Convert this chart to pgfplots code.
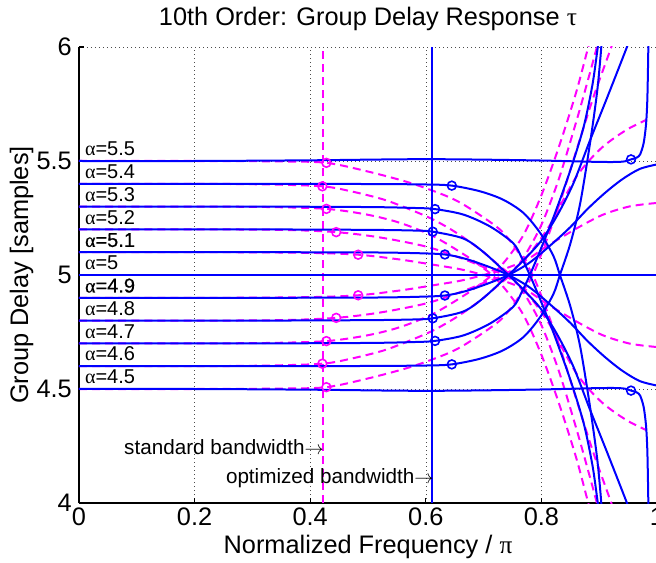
\documentclass[border=0pt]{standalone}
\usepackage{fontspec}
\setmainfont{Liberation Sans}
\newfontfamily\greek{Liberation Serif}
\newfontfamily\fb[FakeBold=0.5]{Liberation Sans}
\newfontfamily\greekfb[FakeBold=0.5]{Liberation Serif}
\usepackage{pgfplots}
\pgfplotsset{compat=1.18}
\definecolor{mblue}{rgb}{0,0,1}
\definecolor{mmag}{rgb}{1,0,1}

\begin{document}
\begin{tikzpicture}
\begin{axis}[
  scale only axis, width=433.5pt, height=342pt,
  xmin=0, xmax=1, ymin=4, ymax=6,
  xtick={0,0.2,0.4,0.6,0.8,1}, ytick={4,4.5,5,5.5,6},
  axis x line=bottom, axis y line=left,
  axis line style={-, line width=1pt, black},
  tick align=inside, major tick length=3.75pt,
  tick style={black, line width=0.8pt},
  grid=major,
  grid style={black!70, line width=0.45pt, dash pattern=on 0.5pt off 2.5pt},
  /pgf/number format/assume math mode=true,
  tick label style={font=\fontsize{19}{22}\selectfont},
  xticklabel style={anchor=north, inner sep=0pt, yshift=-3.75pt},
  yticklabel style={anchor=east, inner sep=0pt, xshift=-5.25pt},
  title={10th Order: Group Delay Response {\greek τ}},
  title style={at={(axis description cs:0.5,1)}, anchor=base, yshift=10pt, inner sep=0pt, font=\fontsize{19}{22}\selectfont},
  xlabel={Normalized Frequency / {\greek π}},
  xlabel style={at={(axis description cs:0.5,0)}, anchor=base, yshift=-37.5pt, inner sep=0pt, font=\fontsize{19}{22}\selectfont},
  ylabel={Group Delay [samples]},
  ylabel style={at={(axis description cs:-0.0882,0.5)}, anchor=base, inner sep=0pt, font=\fontsize{19}{22}\selectfont},
  every axis plot/.append style={line width=1.5pt},
]

% ---- standard design (magenta dashed)
\pgfplotsset{dsh/.style={mmag, dash pattern=on 6pt off 3.8pt, smooth, tension=0.5}}
\addplot[dsh] coordinates {(0,5) (1,5)};
\addplot[dsh] coordinates {(0,5.5) (0.2,5.5) (0.35,5.498) (0.428,5.492) (0.498,5.455) (0.573,5.404) (0.636,5.346) (0.671,5.30) (0.728,5.20) (0.76,5.10) (0.785,5.0) (0.81,4.84) (0.835,4.66) (0.861,4.45) (0.89,4.22) (0.921,4.0) (0.93,3.93)};
\addplot[dsh] coordinates {(0,4.5) (0.2,4.5) (0.35,4.502) (0.428,4.508) (0.498,4.545) (0.573,4.596) (0.636,4.654) (0.671,4.70) (0.728,4.80) (0.76,4.90) (0.785,5.0) (0.81,5.16) (0.835,5.34) (0.861,5.55) (0.89,5.78) (0.921,6.0) (0.93,6.07)};
\addplot[dsh] coordinates {(0,5.4) (0.2,5.4) (0.33,5.397) (0.421,5.389) (0.469,5.368) (0.527,5.331) (0.573,5.287) (0.613,5.243) (0.653,5.185) (0.694,5.112) (0.728,5.039) (0.746,5.0) (0.77,4.92) (0.80,4.78) (0.83,4.58) (0.86,4.33) (0.88,4.15) (0.896,4.0) (0.90,3.95)};
\addplot[dsh] coordinates {(0,4.6) (0.2,4.6) (0.33,4.603) (0.421,4.611) (0.469,4.632) (0.527,4.669) (0.573,4.713) (0.613,4.757) (0.653,4.815) (0.694,4.888) (0.728,4.961) (0.746,5.0) (0.77,5.08) (0.80,5.22) (0.83,5.42) (0.86,5.67) (0.88,5.85) (0.896,6.0) (0.90,6.05)};
\addplot[dsh] coordinates {(0,5.3) (0.2,5.3) (0.33,5.298) (0.428,5.29) (0.498,5.265) (0.555,5.229) (0.613,5.17) (0.671,5.082) (0.705,5.02) (0.715,5.0) (0.74,4.93) (0.77,4.82) (0.80,4.65) (0.83,4.44) (0.86,4.2) (0.881,4.0) (0.886,3.95)};
\addplot[dsh] coordinates {(0,4.7) (0.2,4.7) (0.33,4.702) (0.428,4.71) (0.498,4.735) (0.555,4.771) (0.613,4.83) (0.671,4.918) (0.705,4.98) (0.715,5.0) (0.74,5.07) (0.77,5.18) (0.80,5.35) (0.83,5.56) (0.86,5.8) (0.881,6.0) (0.886,6.05)};
\addplot[dsh] coordinates {(0,5.2) (0.2,5.2) (0.35,5.198) (0.445,5.188) (0.52,5.165) (0.60,5.125) (0.66,5.075) (0.70,5.035) (0.735,5.0) (0.77,4.935) (0.81,4.80) (0.838,4.67) (0.861,4.567) (0.884,4.494) (0.907,4.436) (0.93,4.392) (0.953,4.355) (0.982,4.319)};
\addplot[dsh] coordinates {(0,4.8) (0.2,4.8) (0.35,4.802) (0.445,4.812) (0.52,4.835) (0.60,4.875) (0.66,4.925) (0.70,4.965) (0.735,5.0) (0.77,5.065) (0.81,5.20) (0.838,5.33) (0.861,5.433) (0.884,5.506) (0.907,5.564) (0.93,5.608) (0.953,5.645) (0.982,5.681)};
\addplot[dsh] coordinates {(0,5.1) (0.25,5.1) (0.40,5.097) (0.483,5.089) (0.555,5.068) (0.613,5.045) (0.66,5.025) (0.70,5.0) (0.73,4.978) (0.755,4.955) (0.78,4.925) (0.809,4.874) (0.838,4.83) (0.867,4.787) (0.907,4.735) (0.953,4.699) (1.0,4.684)};
\addplot[dsh] coordinates {(0,4.9) (0.25,4.9) (0.40,4.903) (0.483,4.911) (0.555,4.932) (0.613,4.955) (0.66,4.975) (0.70,5.0) (0.73,5.022) (0.755,5.045) (0.78,5.075) (0.809,5.126) (0.838,5.17) (0.867,5.213) (0.907,5.265) (0.953,5.301) (1.0,5.316)};
\addplot[mmag, only marks, mark=o, mark size=3.3pt, mark options={line width=1.2pt, solid}] coordinates {
  (0.428,5.492) (0.421,5.389) (0.428,5.29) (0.445,5.188) (0.483,5.089)
  (0.483,4.911) (0.445,4.812) (0.428,4.71) (0.421,4.611) (0.428,4.508)};
\addplot[mmag, line width=1.3pt, dash pattern=on 6pt off 3.8pt] coordinates {(0.422,4) (0.422,6)};

% ---- optimized design (blue solid)
\pgfplotsset{sol/.style={mblue, smooth, tension=0.5}}
\addplot[sol] coordinates {(0,5) (1,5)};
\addplot[sol] coordinates {(0,5.5) (0.2,5.5) (0.4,5.503) (0.6,5.508) (0.78,5.503) (0.9,5.496) (0.94,5.497) (0.955,5.507) (0.965,5.515) (0.971,5.53) (0.977,5.58) (0.981,5.66) (0.983,5.75) (0.984,5.85) (0.985,6.0) (0.986,6.2)};
\addplot[sol] coordinates {(0,4.5) (0.2,4.5) (0.4,4.497) (0.6,4.492) (0.78,4.497) (0.9,4.504) (0.94,4.503) (0.955,4.493) (0.965,4.485) (0.971,4.47) (0.977,4.42) (0.981,4.34) (0.983,4.25) (0.984,4.15) (0.985,4.0) (0.986,3.8)};
\addplot[sol] coordinates {(0,5.4) (0.3,5.4) (0.5,5.399) (0.6,5.397) (0.645,5.392) (0.694,5.367) (0.734,5.330) (0.769,5.272) (0.798,5.184) (0.821,5.082) (0.832,5.0) (0.850,4.863) (0.867,4.687) (0.884,4.424) (0.896,4.205) (0.902,4.05) (0.905,3.95)};
\addplot[sol] coordinates {(0,4.6) (0.3,4.6) (0.5,4.601) (0.6,4.603) (0.645,4.608) (0.694,4.633) (0.734,4.670) (0.769,4.728) (0.798,4.816) (0.821,4.918) (0.832,5.0) (0.850,5.137) (0.867,5.313) (0.884,5.576) (0.896,5.795) (0.902,5.95) (0.905,6.05)};
\addplot[sol] coordinates {(0,5.3) (0.3,5.3) (0.5,5.298) (0.58,5.294) (0.616,5.289) (0.665,5.265) (0.711,5.213) (0.751,5.14) (0.766,5.075) (0.78,5.0) (0.798,4.892) (0.821,4.746) (0.850,4.541) (0.873,4.351) (0.888,4.17) (0.896,4.03) (0.90,3.95)};
\addplot[sol] coordinates {(0,4.7) (0.3,4.7) (0.5,4.702) (0.58,4.706) (0.616,4.711) (0.665,4.735) (0.711,4.787) (0.751,4.86) (0.766,4.925) (0.78,5.0) (0.798,5.108) (0.821,5.254) (0.850,5.459) (0.873,5.649) (0.888,5.83) (0.896,5.97) (0.90,6.05)};
\addplot[sol] coordinates {(0,5.2) (0.3,5.2) (0.5,5.198) (0.58,5.195) (0.612,5.19) (0.665,5.16) (0.70,5.10) (0.743,5.0) (0.769,4.935) (0.798,4.855) (0.826,4.745) (0.855,4.60) (0.884,4.41) (0.907,4.265) (0.928,4.13) (0.948,4.0) (0.952,3.97)};
\addplot[sol] coordinates {(0,4.8) (0.3,4.8) (0.5,4.802) (0.58,4.805) (0.612,4.81) (0.665,4.84) (0.70,4.90) (0.743,5.0) (0.769,5.065) (0.798,5.145) (0.826,5.255) (0.855,5.40) (0.884,5.59) (0.907,5.735) (0.928,5.87) (0.948,6.0) (0.952,6.03)};
\addplot[sol] coordinates {(0,5.1) (0.3,5.1) (0.5,5.099) (0.58,5.096) (0.633,5.09) (0.67,5.07) (0.71,5.035) (0.743,5.0) (0.78,4.945) (0.82,4.86) (0.85,4.79) (0.88,4.71) (0.91,4.64) (0.94,4.58) (0.97,4.535) (1.0,4.515)};
\addplot[sol] coordinates {(0,4.9) (0.3,4.9) (0.5,4.901) (0.58,4.904) (0.633,4.91) (0.67,4.93) (0.71,4.965) (0.743,5.0) (0.78,5.055) (0.82,5.14) (0.85,5.21) (0.88,5.29) (0.91,5.36) (0.94,5.42) (0.97,5.465) (1.0,5.485)};
\addplot[mblue, only marks, mark=o, mark size=3.3pt, mark options={line width=1.2pt}] coordinates {
  (0.955,5.507) (0.645,5.392) (0.616,5.289) (0.612,5.19) (0.633,5.09)
  (0.633,4.91) (0.612,4.81) (0.616,4.711) (0.645,4.608) (0.955,4.493)};
\addplot[mblue, line width=1.1pt] coordinates {(0.611,4) (0.611,6)};

% ---- labels
\foreach \a/\t in {5.5/5.5,5.4/5.4,5.3/5.3,5.2/5.2,5/5,4.8/4.8,4.7/4.7,4.6/4.6,4.5/4.5} {
  \edef\temp{\noexpand\node[anchor=base west, inner sep=0pt, yshift=4pt, font=\noexpand\fontsize{15}{18}\noexpand\selectfont] at (axis cs:0.01,\a) {{\noexpand\greek α}=\t};}
  \temp
}
\node[anchor=base west, inner sep=0pt, yshift=4pt, font=\fontsize{15}{18}\selectfont] at (axis cs:0.01,5.1) {\fb{\greekfb α}=5.1};
\node[anchor=base west, inner sep=0pt, yshift=4pt, font=\fontsize{15}{18}\selectfont] at (axis cs:0.01,4.9) {\fb{\greekfb α}=4.9};
\node[anchor=base east, inner sep=0pt, font=\fontsize{15.5}{18}\selectfont] at (axis cs:0.424,4.213) {standard bandwidth$\rightarrow$};
\node[anchor=base east, inner sep=0pt, font=\fontsize{15.5}{18}\selectfont] at (axis cs:0.614,4.085) {optimized bandwidth$\rightarrow$};
\end{axis}
\pgfresetboundingbox
\path[use as bounding box] (-59.25pt,-45pt) rectangle (432.75pt,377.25pt);
\end{tikzpicture}
\end{document}
